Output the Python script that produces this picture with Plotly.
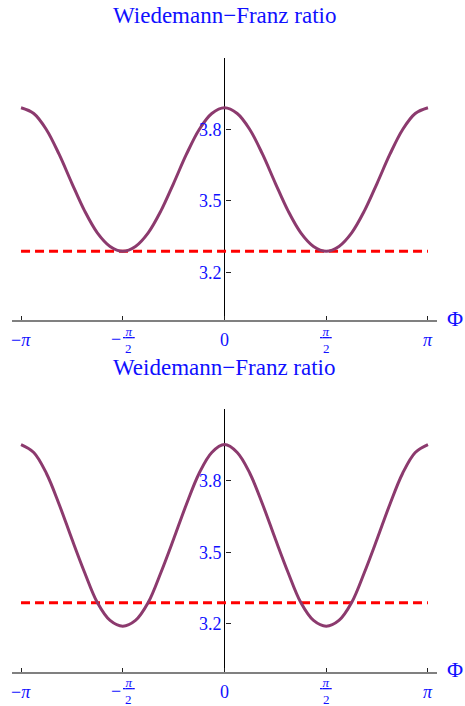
import numpy as np
import plotly.graph_objects as go

# Phi sampled every pi/16 over [-pi, pi]
phi = [k * np.pi / 16 for k in range(-16, 17)]

# values
wf_top = [3.891, 3.867, 3.799, 3.695, 3.574, 3.458, 3.366, 3.309, 3.289,
          3.309, 3.366, 3.458, 3.574, 3.695, 3.799, 3.867, 3.891,
          3.867, 3.799, 3.695, 3.574, 3.458, 3.366, 3.309, 3.289,
          3.309, 3.366, 3.458, 3.574, 3.695, 3.799, 3.867, 3.891]
wf_bottom = [3.952, 3.919, 3.831, 3.701, 3.556, 3.416, 3.290, 3.215, 3.191,
             3.215, 3.290, 3.416, 3.556, 3.701, 3.831, 3.919, 3.952,
             3.919, 3.831, 3.701, 3.556, 3.416, 3.290, 3.215, 3.191,
             3.215, 3.290, 3.416, 3.556, 3.701, 3.831, 3.919, 3.952]
ref_level = [3.289, 3.289]
ref_x = [-np.pi, np.pi]

titles = ["Wiedemann\u2212Franz ratio", "Weidemann\u2212Franz ratio"]
x_ticks = [-np.pi, -np.pi / 2, 0, np.pi / 2, np.pi]
x_sign = ["\u2212", "\u2212", "", "", ""]
x_num = ["<i>\u03c0</i>", "<i>\u03c0</i>", "0", "<i>\u03c0</i>", "<i>\u03c0</i>"]
x_den = ["", "2", "", "2", ""]
y_ticks = [3.2, 3.5, 3.8]
y_range = [3.0, 4.1]
x_range = [-3.281, 3.281]

W, H = 465, 706
BLUE = "#1010FF"
SERIF = "Liberation Serif, Times New Roman, serif"
CURVE = "#8C3A6E"

# panel pixel boxes (top, bottom) in page coordinates
panels = [(58, 320), (409.3, 671.7)]
x_dom = [12 / W, 437 / W]
x_mid = (x_dom[0] + x_dom[1]) / 2

fig = go.Figure()
for i, (series, title) in enumerate(zip([wf_top, wf_bottom], titles)):
    n = "" if i == 0 else str(i + 1)
    xa, ya = "x" + n, "y" + n
    top_px, bot_px = panels[i]
    fig.add_trace(go.Scatter(x=ref_x, y=ref_level, mode="lines", xaxis=xa, yaxis=ya,
                             line=dict(color="#FF0000", width=3, dash="9px,5px")))
    fig.add_trace(go.Scatter(x=phi, y=series, mode="lines", xaxis=xa, yaxis=ya,
                             line=dict(color=CURVE, width=3, shape="spline")))
    fig.update_layout(**{
        "xaxis" + n: dict(domain=x_dom, range=x_range, anchor=ya, showgrid=False, zeroline=True,
                          zerolinecolor="black", zerolinewidth=1, showline=True,
                          linecolor="#808080", linewidth=2, ticks="inside", ticklen=4,
                          tickcolor="#222", tickwidth=1, tickvals=x_ticks, showticklabels=False),
        "yaxis" + n: dict(domain=[1 - bot_px / H, 1 - top_px / H], range=y_range, anchor="free",
                          position=x_mid, showgrid=False, zeroline=False, showline=False,
                          ticks="inside", ticklen=5, tickcolor="#222", tickvals=y_ticks,
                          ticktext=[str(v) for v in y_ticks], ticklabelstandoff=3,
                          tickfont=dict(family=SERIF, size=18, color=BLUE)),
    })
    # title
    fig.add_annotation(text=title, xref="paper", yref="paper", x=x_mid, y=1 - (top_px - 42) / H,
                       showarrow=False, yanchor="middle",
                       font=dict(family=SERIF, size=23, color=BLUE))
    # axis label
    fig.add_annotation(text="\u03a6", xref="paper", yref="paper", x=455 / W, y=1 - (bot_px - 2) / H,
                       showarrow=False, xanchor="center", yanchor="middle",
                       font=dict(family=SERIF, size=22, color=BLUE))
    # x tick labels
    for v, sg, num, den in zip(x_ticks, x_sign, x_num, x_den):
        small = dict(family=SERIF, size=13, color=BLUE)
        if den:
            dx = 6 if sg else 0
            if sg:
                fig.add_annotation(text=sg, xref=xa, yref=ya, x=v, y=y_range[0], xshift=-7,
                                   yshift=-19, showarrow=False, yanchor="middle",
                                   font=dict(family=SERIF, size=18, color=BLUE))
            fig.add_annotation(text="<u>\u2009" + num + "\u2009</u>", xref=xa, yref=ya, x=v,
                               y=y_range[0], xshift=dx, yshift=-11, showarrow=False,
                               yanchor="middle", font=small)
            fig.add_annotation(text=den, xref=xa, yref=ya, x=v, y=y_range[0], xshift=dx,
                               yshift=-28, showarrow=False, yanchor="middle", font=small)
        else:
            fig.add_annotation(text=sg + num, xref=xa, yref=ya, x=v, y=y_range[0], yshift=-8,
                               showarrow=False, yanchor="top",
                               font=dict(family=SERIF, size=18, color=BLUE))

fig.update_layout(width=W, height=H, margin=dict(l=0, r=0, t=0, b=0), showlegend=False,
                  plot_bgcolor="white", paper_bgcolor="white")
fig.write_html("out.html", config={"displayModeBar": False},
               post_script="document.body.style.margin='0';")
